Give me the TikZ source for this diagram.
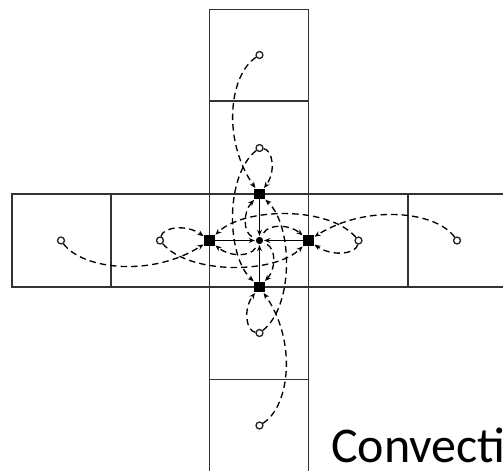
\documentclass[tikz,border=0pt]{standalone}
\usepackage{fontspec}
\setmainfont{Carlito}
\usetikzlibrary{arrows.meta}
\tikzset{
  gridline/.style={draw=black!80,line width=1.2pt},
  sq/.style={fill=black,draw=none,minimum size=8.2pt,inner sep=0pt,outer sep=0pt,shape=rectangle},
  ctr/.style={fill=black,draw=none,circle,minimum size=5.4pt,inner sep=0pt},
  src/.style={fill=white,draw=black!85,line width=1pt,circle,minimum size=5.2pt,inner sep=0pt},
  flow/.style={dash pattern=on 4.8pt off 3.1pt,line width=1pt,-{Stealth[length=4.6pt,width=3.8pt]},shorten >=.5pt},
  fromcentre/.style={flow,shorten <=3.5pt},
  solidflow/.style={line width=1pt,-{Stealth[length=4.6pt,width=3.6pt]},shorten >=.5pt},
  lbl/.style={font=\fontsize{37.5}{40}\selectfont,anchor=base west,inner sep=0pt}
}
\begin{document}
\begin{tikzpicture}[x=0.75pt,y=-0.75pt]
\useasboundingbox (0,0) rectangle (503,471);
\clip (0,0) rectangle (503,471);
% grid
\draw[gridline] (209.5,471) -- (209.5,9.5) -- (308.5,9.5) -- (308.5,471);
\draw[gridline] (209.5,101) -- (308.5,101);
\draw[gridline] (209.5,379.5) -- (308.5,379.5);
\draw[gridline] (503,194) -- (11.7,194) -- (11.7,286.8) -- (503,286.8);
\draw[gridline] (110.8,194) -- (110.8,286.8);
\draw[gridline] (408,194) -- (408,286.8);
% nodes
\node[ctr] (C) at (259.5,240.5) {};
\node[sq] (N) at (259.5,194) {};
\node[sq] (S) at (259.5,287) {};
\node[sq] (W) at (209.5,240.5) {};
\node[sq] (E) at (308.5,240.5) {};
\node[src] (TF) at (259.5,55) {};
\node[src] (BF) at (259.5,425.5) {};
\node[src] (LF) at (61,240.5) {};
\node[src] (RF) at (457,240.5) {};
\node[src] (TN) at (259.5,148) {};
\node[src] (BN) at (259.5,333) {};
\node[src] (LN) at (160,240.5) {};
\node[src] (RN) at (358.5,240.5) {};
% solid arrows
\draw[solidflow] (N) -- (C);
\draw[solidflow] (S) -- (C);
\draw[solidflow] (W) -- (C);
\draw[solidflow] (E) -- (C);
% far sources
\draw[flow] (TF) .. controls (229,75) and (222,140) .. (N);
\draw[flow] (BF) .. controls (290,406) and (297,341) .. (S);
\draw[flow] (LF) .. controls (83,270) and (153,277) .. (W);
\draw[flow] (RF) .. controls (436,211) and (366,204) .. (E);
% near sources, long way
\draw[flow] (TN) .. controls (225,175) and (226,255) .. (S);
\draw[flow] (BN) .. controls (294,306) and (293,226) .. (N);
\draw[flow] (LN) .. controls (189.5,275) and (275,274) .. (E);
\draw[flow] (RN) .. controls (329.5,206) and (244,207) .. (W);
% near sources, short loop
\draw[flow] (TN) .. controls (273,150) and (276,172) .. (N);
\draw[flow] (BN) .. controls (246,331) and (243,309) .. (S);
\draw[flow] (LN) .. controls (163,227) and (186.5,224) .. (W);
\draw[flow] (RN) .. controls (356,254) and (332.5,257) .. (E);
% centre loops
\draw[fromcentre] (C) .. controls (243,232) and (243,212) .. (N);
\draw[fromcentre] (C) .. controls (276,249) and (276,269) .. (S);
\draw[fromcentre] (C) .. controls (250.5,257) and (229.5,257) .. (W);
\draw[fromcentre] (C) .. controls (268.5,224) and (289.5,224) .. (E);
% label
\node[lbl] (T) at (331,462.5) {Convection};
\end{tikzpicture}
\end{document}
